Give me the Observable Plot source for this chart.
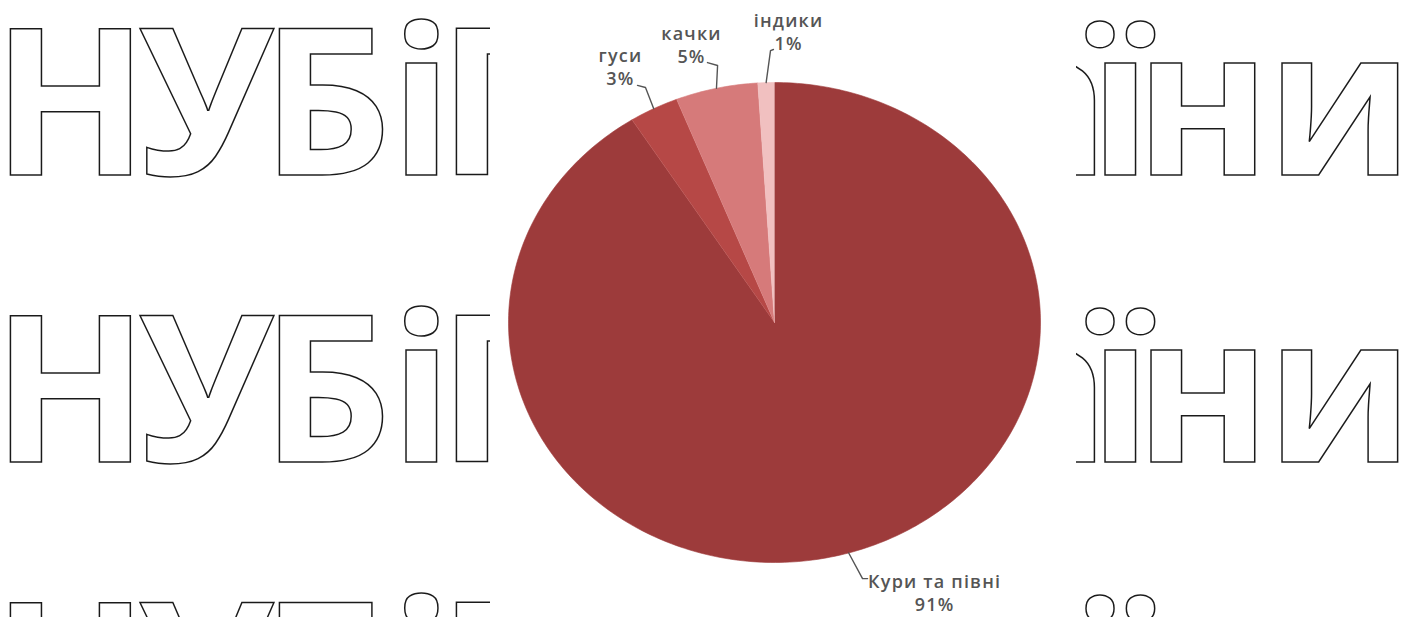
<!DOCTYPE html>
<html><head><meta charset="utf-8">
<script src="https://cdn.jsdelivr.net/npm/d3@7"></script>
<script src="https://cdn.jsdelivr.net/npm/@observablehq/plot@0.6"></script>
<style>
html,body{margin:0;padding:0;background:#fff;}
#wrap{position:relative;width:1408px;height:617px;overflow:hidden;background:#fff;}
#wm{position:absolute;left:0;top:0;}
#chart{position:absolute;left:490px;top:0;}
#chart svg{background:#fff;display:block;}
#chart text{letter-spacing:1.2px;}
</style></head><body>
<div id="wrap">
<svg id="wm" width="1408" height="617" xmlns="http://www.w3.org/2000/svg">
  <g font-family="'Open Sans', sans-serif" font-weight="700" font-size="205" fill="none" stroke="#1a1a1a" stroke-width="1.5">
    <text x="-8 138 261 390 438" y="175">НУБіП</text>
    <text x="603 732 855 986 1089 1135 1266" y="175">України</text>
    <text x="-8 138 261 390 438" y="462">НУБіП</text>
    <text x="603 732 855 986 1089 1135 1266" y="462">України</text>
    <text x="-8 138 261 390 438" y="749">НУБіП</text>
    <text x="603 732 855 986 1089 1135 1266" y="749">України</text>
  </g>
</svg>
<div id="chart"></div>
</div>
<script>
// ---- data ----
const categories = ["Кури та півні", "гуси", "качки", "індики"];
const shares = [91, 3, 5, 1];
const percentLabels = ["91%", "3%", "5%", "1%"];

// ---- styling / layout (not data) ----
const sliceColors = ["#9d3b3b", "#b64846", "#d67a7a", "#f1c0c0"];
// label layout in unit-circle coordinates: leader elbow, leader end, text centre
const labelLayout = [
  {elbow: [0.331, -1.067], end: [0.350, -1.067], text: [0.602, -1.123]},
  {elbow: [-0.485, 0.979], end: [-0.515, 0.988], text: [-0.579, 1.069]},
  {elbow: [-0.214, 1.071], end: [-0.252, 1.083], text: [-0.312, 1.160]},
  {elbow: [-0.015, 1.133], end: [-0.004, 1.1375], text: [0.053, 1.215]}
];

const total = d3.sum(shares);
const slices = [];
const leaders = [];
const labels = [];
let cum = 0;
categories.forEach((name, i) => {
  const a0 = 2 * Math.PI * cum / total;
  cum += shares[i];
  const a1 = 2 * Math.PI * cum / total;
  const steps = Math.max(2, Math.ceil(shares[i] * 3.6));
  slices.push({name, x: 0, y: 0});
  for (let k = 0; k <= steps; k++) {
    const a = a0 + (a1 - a0) * k / steps;
    slices.push({name, x: Math.sin(a), y: Math.cos(a)});
  }
  const am = (a0 + a1) / 2;
  const L = labelLayout[i];
  leaders.push({name, x: Math.sin(am), y: Math.cos(am)});
  leaders.push({name, x: L.elbow[0], y: L.elbow[1]});
  leaders.push({name, x: L.end[0], y: L.end[1]});
  labels.push({name, x: L.text[0], y: L.text[1], label: name + "\n" + percentLabels[i]});
});

const chart = Plot.plot({
  width: 586,
  height: 617,
  marginLeft: 18,
  marginRight: 36,
  marginTop: 82,
  marginBottom: 55,
  x: {domain: [-1, 1], axis: null},
  y: {domain: [-1, 1], axis: null},
  color: {domain: categories, range: sliceColors},
  style: {background: "#fff", overflow: "visible"},
  marks: [
    Plot.line(slices, {x: "x", y: "y", z: "name", fill: "name", stroke: "name", strokeWidth: 0.6, curve: "linear"}),
    Plot.line(leaders, {x: "x", y: "y", z: "name", stroke: "#555", strokeWidth: 1.4}),
    Plot.text(labels, {x: "x", y: "y", text: "label", fontSize: 18, lineHeight: 1.3, fill: "#555",
      fontFamily: "'Open Sans', sans-serif", fontWeight: 600, textAnchor: "middle", lineAnchor: "middle"})
  ]
});
document.getElementById("chart").appendChild(chart);
</script>
</body></html>
